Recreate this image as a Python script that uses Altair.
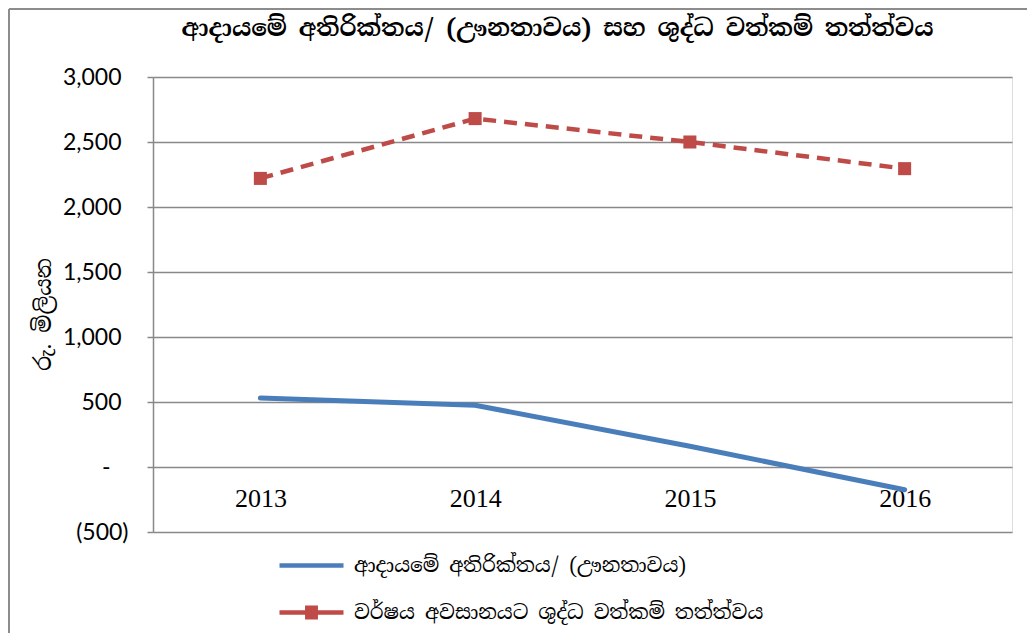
import altair as alt
import pandas as pd

years = ["2013", "2014", "2015", "2016"]
surplus = [530, 475, 160, -175]
net_assets = [2220, 2680, 2500, 2295]
series_names = ["ආදායමේ අතිරික්තය/ (ඌනතාවය)", "වර්ෂය අවසානයට ශුද්ධ වත්කම් තත්ත්වය"]
title_text = "ආදායමේ අතිරික්තය/ (ඌනතාවය) සහ ශුද්ධ වත්කම් තත්ත්වය"
y_title = "රු. මිලියන"
y_ticks = [-500, 0, 500, 1000, 1500, 2000, 2500, 3000]
colors = ["#4A7EBB", "#BE4B48"]

rows = []
for yr, v in zip(years, surplus):
    rows.append({"year": yr, "value": v, "series": series_names[0]})
for yr, v in zip(years, net_assets):
    rows.append({"year": yr, "value": v, "series": series_names[1]})
df = pd.DataFrame(rows)

SIN = "'Noto Serif Sinhala', 'Noto Sans Sinhala', 'Iskoola Pota', 'Liberation Serif', serif"
GRID = "#898989"

legend_def = alt.Legend(
    title=None, orient="none", legendX=146, legendY=476, direction="vertical",
    padding=0, symbolSize=400, symbolStrokeWidth=4.5, labelFont=SIN,
    labelFontSize=20, labelColor="black", labelOffset=30, rowPadding=20,
    labelLimit=600,
)

x_enc = alt.X(
    "year:O", scale=alt.Scale(type="point", padding=0.5),
    axis=alt.Axis(title=None, labelAngle=0, domain=False, ticks=False, grid=False,
                  offset=-48, labelPadding=1, labelFont="Liberation Serif",
                  labelFontSize=26, labelColor="black"),
)
label_expr = ("datum.value == 0 ? '-' : datum.value < 0 ? "
              "'(' + format(-datum.value, ',') + ')' : format(datum.value, ',')")
y_enc = alt.Y(
    "value:Q", scale=alt.Scale(domain=[-500, 3000], nice=False, zero=False),
    axis=alt.Axis(values=y_ticks, labelExpr=label_expr, title=y_title,
                  titleFont=SIN, titleFontSize=22, titleFontWeight="normal",
                  titleColor="black", titlePadding=7, titleY=237,
                  labelFont="Lato", labelFontSize=23, labelColor="black",
                  labelPadding={"condition": [{"test": "datum.value < 0", "value": 19},
                                              {"test": "datum.value == 0", "value": 37}],
                                "value": 26},
                  tickSize=6, tickColor=GRID, tickWidth=1.5,
                  domainColor=GRID, domainWidth=1.5, gridColor=GRID, gridWidth=1.5),
)
color_enc = alt.Color("series:N", scale=alt.Scale(domain=series_names, range=colors),
                      legend=legend_def)

blue_path = "M-3.2,0H3.2"
red_path = "M-3.2,0H3.2M-0.42,-0.7V0.7M-0.14,-0.7V0.7M0.14,-0.7V0.7M0.42,-0.7V0.7"
shape_enc = alt.Shape("series:N", scale=alt.Scale(domain=series_names, range=[blue_path, red_path]),
                      legend=legend_def)

base = alt.Chart(df)
blue_line = base.transform_filter(alt.datum.series == series_names[0]).mark_line(
    strokeWidth=5, strokeCap="round").encode(x=x_enc, y=y_enc, color=color_enc)
red_line = base.transform_filter(alt.datum.series == series_names[1]).mark_line(
    strokeWidth=4.5, strokeDash=[13, 8]).encode(x=x_enc, y=y_enc, color=color_enc)
red_pts = base.transform_filter(alt.datum.series == series_names[1]).mark_point(
    shape="square", filled=True, size=170, opacity=1, color=colors[1]).encode(x=x_enc, y=y_enc)
legend_layer = base.transform_filter("false").mark_point(
    filled=False, strokeWidth=4.5, opacity=1).encode(x=x_enc, y=y_enc, color=color_enc, shape=shape_enc)

# decorative outer chart frame (top and left edges, as in the reference)
frame_top = alt.Chart(pd.DataFrame({"k": [0]})).mark_rule(color="#8c8c8c", strokeWidth=2).encode(
    x=alt.value(-144), x2=alt.value(874), y=alt.value(-68))
frame_left = alt.Chart(pd.DataFrame({"k": [0]})).mark_rule(color="#8c8c8c", strokeWidth=2).encode(
    x=alt.value(-144), y=alt.value(-68), y2=alt.value(556))

chart = alt.layer(frame_top, frame_left, blue_line, red_line, red_pts, legend_layer).properties(
    width=859, height=455,
    title=alt.TitleParams(title_text, font=SIN, fontSize=24, fontWeight="bold",
                          color="black", anchor="middle", offset=0, dy=33, dx=-25),
    autosize=alt.AutoSizeParams(type="none"),
    padding={"left": 145, "top": 69, "right": 15, "bottom": 101},
).configure_view(stroke=None).configure(background="white")

chart.save("out.html", embed_options={"renderer": "svg", "actions": False})
